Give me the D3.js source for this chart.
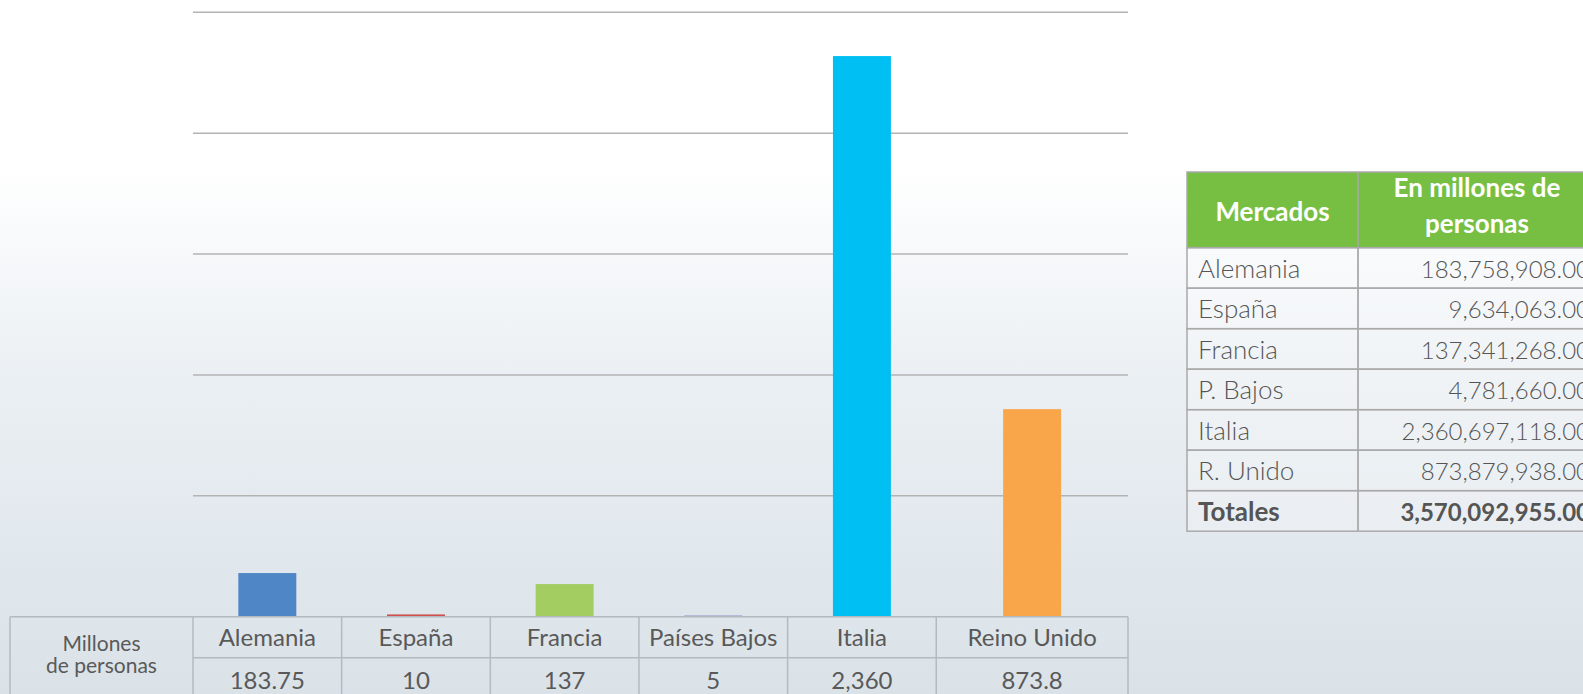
<!DOCTYPE html>
<html>
<head>
<meta charset="utf-8">
<script src="https://cdn.jsdelivr.net/npm/d3@7"></script>
<style>
  html, body { margin: 0; padding: 0; background: #ffffff; }
  svg { display: block; }
</style>
</head>
<body>
<div id="chart"></div>
<script>
// ---------------- data ----------------
const categories   = ["Alemania", "España", "Francia", "Países Bajos", "Italia", "Reino Unido"];
const tableLabels  = ["183.75", "10", "137", "5", "2,360", "873.8"];
const rowHeaderLines = ["Millones", "de personas"];
const markets      = ["Alemania", "España", "Francia", "P. Bajos", "Italia", "R. Unido"];
const personas     = [183758908, 9634063, 137341268, 4781660, 2360697118, 873879938];
const tableHeader  = ["Mercados", ["En millones de", "personas"]];
const totalLabel   = "Totales";
const barColors    = ["#4f86c6", "#d0504d", "#a3cd61", "#8b7fc0", "#00bff3", "#f9a54a"];
const colWeights   = [1, 1, 1, 1, 1, 1.29];

// bar values in millions
const values = personas.map(d => d / 1e6);

// ---------------- layout ----------------
const W = 1583, H = 694;
const plot = { left: 193, right: 1128, top: 12.3, bottom: 616.7 };
const yMax = 2545;
const dt = { left: 10, rowH: 41 };           // bottom data table
const fontMain = "Lato, 'Open Sans', sans-serif";

const svg = d3.select("#chart").append("svg").attr("width", W).attr("height", H);

// background gradient
const defs = svg.append("defs");
const grad = defs.append("linearGradient").attr("id", "bg")
  .attr("x1", 0).attr("y1", 0).attr("x2", 0).attr("y2", 1);
grad.append("stop").attr("offset", "0%").attr("stop-color", "#ffffff");
grad.append("stop").attr("offset", "24%").attr("stop-color", "#ffffff");
grad.append("stop").attr("offset", "55%").attr("stop-color", "#eaeff3");
grad.append("stop").attr("offset", "100%").attr("stop-color", "#dae2e8");
svg.append("rect").attr("width", W).attr("height", H).attr("fill", "url(#bg)");

// scales
const edges = [0, ...d3.cumsum(colWeights)];
const xs = d3.scaleLinear().domain([0, d3.sum(colWeights)]).range([plot.left, plot.right]);
const colLeft  = i => xs(edges[i]);
const colRight = i => xs(edges[i + 1]);
const colMid   = i => (colLeft(i) + colRight(i)) / 2;
const barW = (xs(1) - xs(0)) * 0.39;

const y = d3.scaleLinear().domain([0, yMax]).range([plot.bottom, plot.top]);
const gridVals = d3.range(1, 6).map(i => yMax * i / 5);

// gridlines
svg.append("g").selectAll("line").data(gridVals).join("line")
  .attr("x1", plot.left).attr("x2", plot.right)
  .attr("y1", d => y(d)).attr("y2", d => y(d))
  .attr("stroke", "#b3b3b3").attr("stroke-width", 1.5);

// bars
svg.append("g").selectAll("rect").data(values).join("rect")
  .attr("x", (d, i) => colMid(i) - barW / 2)
  .attr("width", barW)
  .attr("y", d => y(d))
  .attr("height", d => Math.max(y(0) - y(d), 1.5))
  .attr("fill", (d, i) => barColors[i]);

// ---------------- bottom data table ----------------
const tg = svg.append("g");
const lineCol = "#b5babf";
const t0 = plot.bottom, t1 = t0 + dt.rowH, t2 = t1 + dt.rowH;
tg.append("line").attr("x1", dt.left).attr("x2", plot.right).attr("y1", t0).attr("y2", t0)
  .attr("stroke", lineCol).attr("stroke-width", 1.5);
tg.append("line").attr("x1", plot.left).attr("x2", plot.right).attr("y1", t1).attr("y2", t1)
  .attr("stroke", lineCol).attr("stroke-width", 1.5);
tg.append("line").attr("x1", dt.left).attr("x2", plot.right).attr("y1", t2).attr("y2", t2)
  .attr("stroke", lineCol).attr("stroke-width", 1.5);
const vx = [dt.left, ...edges.map(e => xs(e))];
tg.selectAll("line.v").data(vx).join("line").attr("class", "v")
  .attr("x1", d => d).attr("x2", d => d).attr("y1", t0).attr("y2", t2)
  .attr("stroke", lineCol).attr("stroke-width", 1.5);

tg.selectAll("text.cat").data(categories).join("text").attr("class", "cat")
  .attr("x", (d, i) => colMid(i)).attr("y", t0 + 29.5)
  .attr("text-anchor", "middle").attr("font-family", fontMain).attr("font-size", 24)
  .attr("fill", "#595959").text(d => d);
tg.selectAll("text.val").data(tableLabels).join("text").attr("class", "val")
  .attr("x", (d, i) => colMid(i)).attr("y", t1 + 31)
  .attr("text-anchor", "middle").attr("font-family", fontMain).attr("font-size", 24)
  .attr("fill", "#595959").text(d => d);
tg.selectAll("text.rh").data(rowHeaderLines).join("text").attr("class", "rh")
  .attr("x", (dt.left + plot.left) / 2).attr("y", (d, i) => 651 + i * 22)
  .attr("text-anchor", "middle").attr("font-family", fontMain).attr("font-size", 21)
  .attr("fill", "#595959").text(d => d);

// ---------------- right summary table ----------------
const rt = { left: 1187, mid: 1358, right: 1596, top: 172, headH: 75.7, rowH: 40.5 };
const rg = svg.append("g");
const rows = markets.map((m, i) => ({ name: m, v: personas[i], bold: false }));
rows.push({ name: totalLabel, v: d3.sum(personas), bold: true });
const fmt = d3.format(",.2f");
const rtBorder = "#a9a9a9";

rg.append("rect").attr("x", rt.left).attr("y", rt.top).attr("width", rt.right - rt.left).attr("height", rt.headH)
  .attr("fill", "#77bf43").attr("stroke", rtBorder).attr("stroke-width", 1.5);
rg.append("line").attr("x1", rt.mid).attr("x2", rt.mid).attr("y1", rt.top).attr("y2", rt.top + rt.headH + rows.length * rt.rowH)
  .attr("stroke", rtBorder).attr("stroke-width", 1.5);
rg.append("text").attr("x", (rt.left + rt.mid) / 2).attr("y", rt.top + 49)
  .attr("text-anchor", "middle").attr("font-family", fontMain).attr("font-weight", 700)
  .attr("font-size", 26).attr("fill", "#ffffff").text(tableHeader[0]);
rg.selectAll("text.h2").data(tableHeader[1]).join("text").attr("class", "h2")
  .attr("x", (rt.mid + rt.right) / 2).attr("y", (d, i) => rt.top + 25 + i * 36)
  .attr("text-anchor", "middle").attr("font-family", fontMain).attr("font-weight", 700)
  .attr("font-size", 26).attr("fill", "#ffffff").text(d => d);

const bodyTop = rt.top + rt.headH;
const rowG = rg.selectAll("g.row").data(rows).join("g").attr("class", "row")
  .attr("transform", (d, i) => `translate(0,${bodyTop + i * rt.rowH})`);
rowG.append("rect").attr("x", rt.left).attr("y", 0).attr("width", rt.right - rt.left).attr("height", rt.rowH)
  .attr("fill", "rgba(255,255,255,0.25)").attr("stroke", rtBorder).attr("stroke-width", 1.5);
rowG.append("line").attr("x1", rt.mid).attr("x2", rt.mid).attr("y1", 0).attr("y2", rt.rowH)
  .attr("stroke", rtBorder).attr("stroke-width", 1.5);
rowG.append("text").attr("x", rt.left + 11).attr("y", 30)
  .attr("font-family", fontMain).attr("font-size", 26)
  .attr("font-weight", d => d.bold ? 700 : 300)
  .attr("fill", "#555555").text(d => d.name);
rowG.append("text").attr("x", rt.right - 6).attr("y", 30)
  .attr("text-anchor", "end").attr("font-family", fontMain).attr("font-size", 24)
  .attr("font-weight", d => d.bold ? 700 : 300)
  .attr("fill", "#555555").text(d => fmt(d.v));
</script>
</body>
</html>
